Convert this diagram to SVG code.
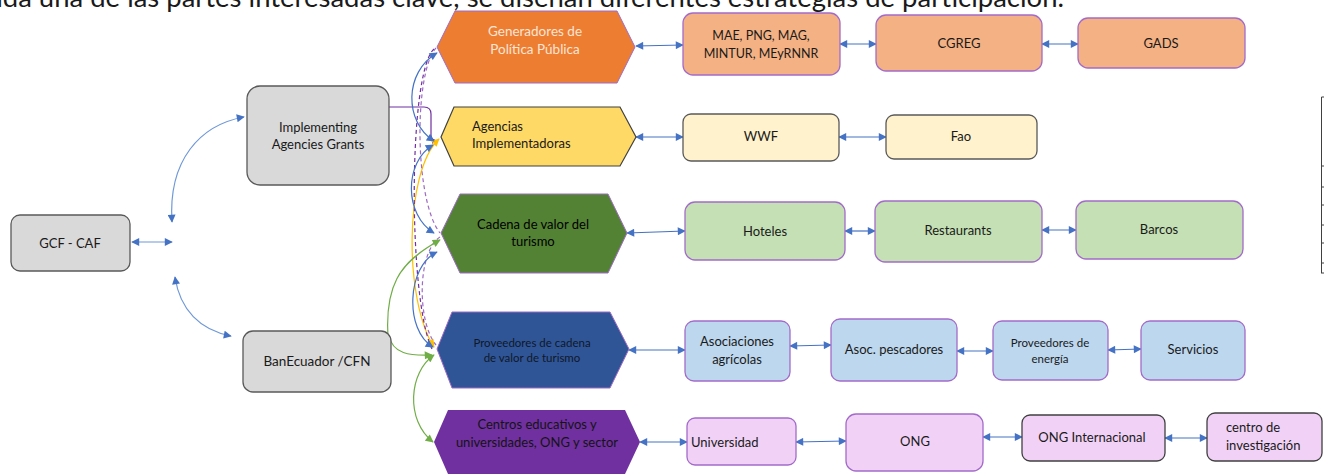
<svg xmlns="http://www.w3.org/2000/svg" width="1324" height="475" viewBox="0 0 1324 475">
<style>
text{font-family:Lato,"Liberation Sans",sans-serif;font-size:13px;fill:#1a1a1a}
.c{text-anchor:middle}
.box{stroke-width:1.3}
.gray{fill:#d9d9d9;stroke:#595959;stroke-width:1.3}
.or{fill:#f4b183;stroke:#a36bc9}
.ye{fill:#fff2cc;stroke:#595959}
.gr{fill:#c5e0b4;stroke:#a36bc9}
.bl{fill:#bdd7ee;stroke:#a36bc9}
.pk{fill:#f1d2f6;stroke:#a36bc9}
.pkd{fill:#f1d2f6;stroke:#404040}
.ln{fill:none;stroke-width:1.2}
.b{stroke:#4472c4;marker-start:url(#ab);marker-end:url(#ab)}
.lb{stroke:#6f98d8;marker-start:url(#ab);marker-end:url(#ab)}
</style>
<defs>
<marker id="ab" viewBox="0 0 10 10" refX="9" refY="5" markerUnits="userSpaceOnUse" markerWidth="9" markerHeight="8" orient="auto-start-reverse"><path d="M0,0L10,5L0,10z" fill="#4472c4"/></marker>
<marker id="ag" viewBox="0 0 10 10" refX="9" refY="5" markerUnits="userSpaceOnUse" markerWidth="9" markerHeight="8" orient="auto-start-reverse"><path d="M0,0L10,5L0,10z" fill="#70ad47"/></marker>
<marker id="ay" viewBox="0 0 10 10" refX="9" refY="5" markerUnits="userSpaceOnUse" markerWidth="9" markerHeight="8" orient="auto-start-reverse"><path d="M0,0L10,5L0,10z" fill="#ffc000"/></marker>
<marker id="ap" viewBox="0 0 10 10" refX="9" refY="5" markerUnits="userSpaceOnUse" markerWidth="6" markerHeight="6" orient="auto-start-reverse"><path d="M0,0L10,5L0,10z" fill="#7030a0"/></marker>
</defs>
<rect width="1324" height="475" fill="#ffffff"/>

<text x="-24" y="7" style="font-size:27px" textLength="1088" lengthAdjust="spacingAndGlyphs">cada una de las partes interesadas clave, se diseñan diferentes estrategias de participación.</text>

<g id="table-edge" stroke="#404040" stroke-width="1" fill="none">
<path d="M1321.5,97V273M1321.5,97H1324M1321,166H1324M1321,187H1324M1321,205H1324M1321,225H1324M1321,243H1324M1321,263H1324M1321,273H1324"/>
</g>

<g id="connectors">
<path class="ln lb" d="M132,242H172"/>
<path class="ln lb" d="M172,222C168,160 200,125 244,117"/>
<path class="ln lb" d="M175,277C180,310 200,330 231,336"/>

<path class="ln" stroke="#7030a0" stroke-width="1.5" d="M389,107H424Q431,107 431,114V135Q431,141 437,141" marker-end="url(#ap)"/>
<path class="ln" stroke="#ffc000" d="M434,347C404,300 404,172 439,139" marker-start="url(#ay)" marker-end="url(#ay)"/>
<path class="ln" stroke="#7030a0" stroke-dasharray="4 3" d="M434,49C408,72 408,300 432,349"/>
<path class="ln" stroke="#9e6bc4" stroke-dasharray="4 3" d="M436,48C414,72 414,200 440,233"/>
<path class="ln" stroke="#9e6bc4" stroke-dasharray="4 3" d="M440,237C417,252 417,322 436,345"/>
<path class="ln b" d="M437,53C404,72 404,122 434,141"/>
<path class="ln b" d="M433,145C404,162 404,215 434,233"/>
<path class="ln b" d="M437,252C407,266 404,330 433,347"/>
<path class="ln" stroke="#70ad47" stroke-width="1.4" d="M389,349C382,285 400,262 440,240" marker-end="url(#ag)"/>
<path class="ln" stroke="#70ad47" stroke-width="1.4" d="M389,335C392,354 410,356 432,355" marker-end="url(#ag)"/>
<path class="ln" stroke="#70ad47" stroke-width="1.2" d="M434,355C409,372 405,420 433,442" marker-start="url(#ag)" marker-end="url(#ag)"/>

<path class="ln b" d="M636,46L683,45"/>
<path class="ln b" d="M840,44L876,44"/>
<path class="ln b" d="M1042,44L1078,44"/>
<path class="ln b" d="M636,137L683,137"/>
<path class="ln b" d="M839,137L886,137"/>
<path class="ln b" d="M627,233L685,231"/>
<path class="ln b" d="M845,231L875,231"/>
<path class="ln b" d="M1042,230L1076,230"/>
<path class="ln b" d="M629,350L685,350"/>
<path class="ln b" d="M790,346L831,345"/>
<path class="ln b" d="M957,351L993,351"/>
<path class="ln b" d="M1108,350L1141,349"/>
<path class="ln b" d="M640,442L687,442"/>
<path class="ln b" d="M796,442L846,441"/>
<path class="ln b" d="M983,437L1022,437"/>
<path class="ln b" d="M1165,438L1207,438"/>
</g>

<g id="gcf-caf"><rect class="gray" x="11" y="215" width="119" height="56" rx="9"/><text class="c" x="70" y="248">GCF - CAF</text></g>
<g id="implementing"><rect class="gray" x="247" y="86" width="142" height="99" rx="13"/><text class="c" x="318" y="132">Implementing</text><text class="c" x="318" y="149">Agencies Grants</text></g>
<g id="banecuador"><rect class="gray" x="243" y="331" width="148" height="61" rx="10"/><text class="c" x="317" y="366" style="font-size:13.5px">BanEcuador /CFN</text></g>

<g id="generadores"><polygon points="437,47 455,11 617,11 635,47 617,83 455,83" fill="#ed7d31" stroke="#9e6bc4" stroke-width="1"/><text class="c" x="535" y="36" style="fill:#fbe5d6;font-size:13.5px">Generadores de</text><text class="c" x="535" y="54" style="fill:#fbe5d6;font-size:13.5px">Política Pública</text></g>
<g id="agencias"><polygon points="441,137 454,107 620,107 636,137 620,166 454,166" fill="#ffd966" stroke="#404040" stroke-width="1.2"/><text x="472" y="131">Agencias</text><text x="472" y="148">Implementadoras</text></g>
<g id="cadena"><polygon points="441,233 460,194 608,194 627,233 608,273 460,273" fill="#548235" stroke="#9e6bc4" stroke-width="1"/><text class="c" x="533" y="229" style="fill:#000">Cadena de valor del</text><text class="c" x="533" y="246" style="fill:#000">turismo</text></g>
<g id="proveedores"><polygon points="437,349 452,312 610,312 629,349 610,388 452,388" fill="#2f5597" stroke="#9e6bc4" stroke-width="1"/><text class="c" x="532" y="347" style="fill:#101828;font-size:11.5px">Proveedores de cadena</text><text class="c" x="532" y="362" style="fill:#101828;font-size:11.5px">de valor de turismo</text></g>
<g id="centros"><polygon points="434,442 448,410 625,410 640,442 625,474 448,474" fill="#7030a0"/><text class="c" x="537" y="429" style="fill:#141414;font-size:13px">Centros educativos y</text><text class="c" x="537" y="447" style="fill:#141414;font-size:13px">universidades, ONG y sector</text></g>

<g id="mae"><rect class="box or" x="683" y="13" width="157" height="62" rx="10"/><text class="c" x="761" y="40" style="font-size:12.5px">MAE, PNG, MAG,</text><text class="c" x="761" y="58" style="font-size:12.5px">MINTUR, MEyRNNR</text></g>
<g id="cgreg"><rect class="box or" x="876" y="15" width="166" height="56" rx="10"/><text class="c" x="959" y="48">CGREG</text></g>
<g id="gads"><rect class="box or" x="1078" y="18" width="167" height="50" rx="10"/><text class="c" x="1161" y="48">GADS</text></g>

<g id="wwf"><rect class="box ye" x="683" y="114" width="156" height="47" rx="8"/><text class="c" x="761" y="141">WWF</text></g>
<g id="fao"><rect class="box ye" x="886" y="115" width="151" height="44" rx="8"/><text class="c" x="961" y="141">Fao</text></g>

<g id="hoteles"><rect class="box gr" x="685" y="202" width="160" height="58" rx="10"/><text class="c" x="765" y="236">Hoteles</text></g>
<g id="restaurants"><rect class="box gr" x="875" y="201" width="167" height="61" rx="10"/><text class="c" x="958" y="235">Restaurants</text></g>
<g id="barcos"><rect class="box gr" x="1076" y="201" width="167" height="58" rx="10"/><text class="c" x="1159" y="234">Barcos</text></g>

<g id="asociaciones"><rect class="box bl" x="685" y="321" width="105" height="60" rx="9"/><text class="c" x="737" y="346">Asociaciones</text><text class="c" x="737" y="364">agrícolas</text></g>
<g id="pescadores"><rect class="box bl" x="831" y="319" width="126" height="62" rx="9"/><text class="c" x="894" y="354">Asoc. pescadores</text></g>
<g id="energia"><rect class="box bl" x="993" y="321" width="115" height="59" rx="9"/><text class="c" x="1050" y="347" style="font-size:11.5px">Proveedores de</text><text class="c" x="1050" y="363" style="font-size:11.5px">energía</text></g>
<g id="servicios"><rect class="box bl" x="1141" y="321" width="104" height="59" rx="9"/><text class="c" x="1193" y="354">Servicios</text></g>

<g id="universidad"><rect class="box pk" x="687" y="418" width="109" height="47" rx="8"/><text x="691" y="447">Universidad</text></g>
<g id="ong"><rect class="box pk" x="846" y="414" width="137" height="57" rx="10"/><text class="c" x="915" y="446">ONG</text></g>
<g id="ong-internacional"><rect class="box pkd" x="1022" y="415" width="143" height="46" rx="8"/><text class="c" x="1092" y="442">ONG Internacional</text></g>
<g id="centro-investigacion"><rect class="box pkd" x="1207" y="413" width="115" height="48" rx="8"/><text x="1226" y="432">centro de</text><text x="1226" y="450">investigación</text></g>
</svg>
